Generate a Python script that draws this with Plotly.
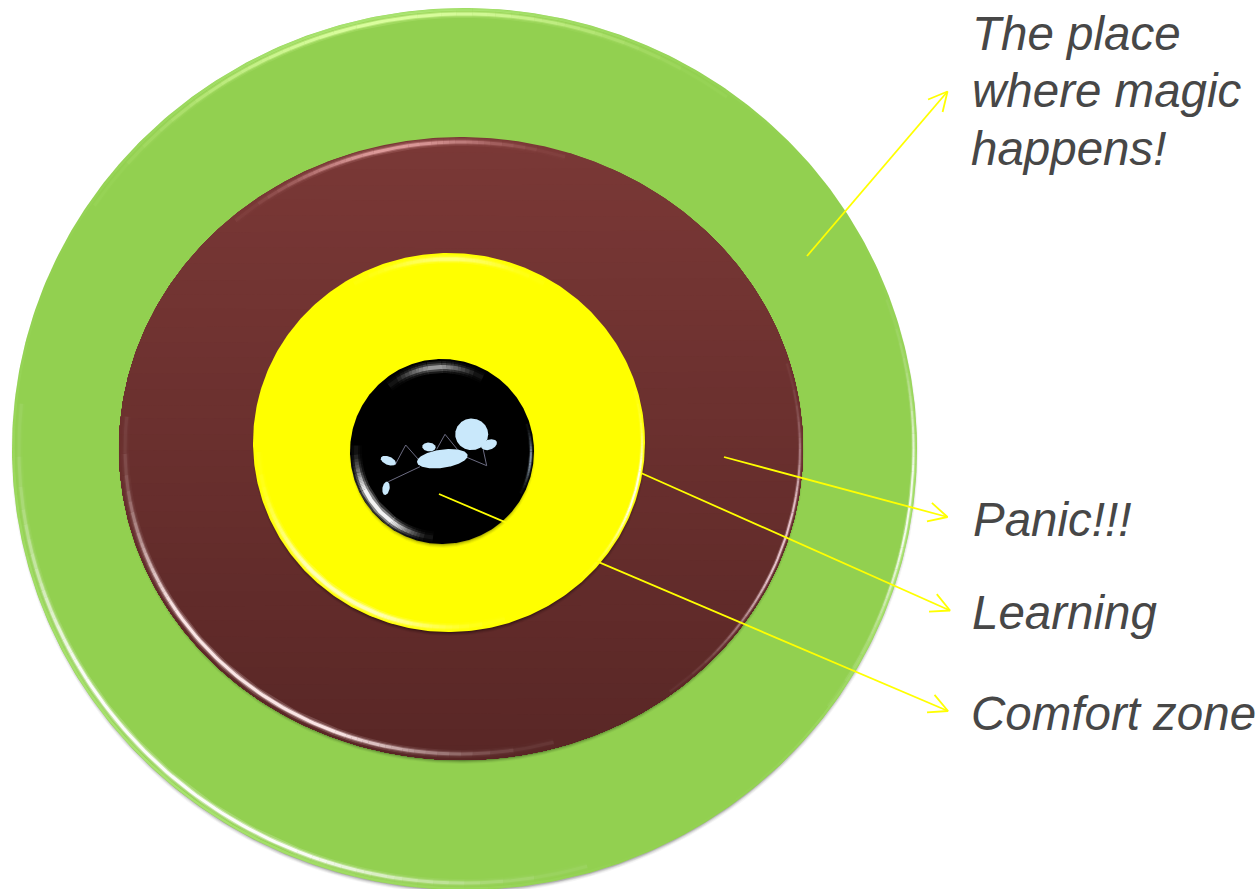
import numpy as np
import plotly.graph_objects as go

# Concentric zones: bounding boxes on a 1260 x 889 canvas
ZONE_NAMES = ["The place where magic happens", "Panic", "Learning", "Comfort zone"]
ZONE_LEFT = [12, 119, 253, 350]
ZONE_RIGHT = [917, 803, 645, 534]
ZONE_TOP = [8, 137, 253, 359]
ZONE_BOTTOM = [890, 760, 632, 544]
ZONE_TOP_COLOR = ["#92d050", "#7a3836", "#ffff00", "#000000"]
ZONE_BOTTOM_COLOR = ["#92d050", "#592726", "#ffff00", "#000000"]

# Labels, one entry per text line
LABEL_TEXT = ["The place", "where magic", "happens!", "Panic!!!", "Learning", "Comfort zone"]
LABEL_X = [971, 971, 970, 972, 971, 970]
LABEL_BASELINE = [49, 106, 164, 535, 628, 729]

# Leader arrows
ARROW_FROM_X = [807, 724, 641, 439]
ARROW_FROM_Y = [256, 457, 473, 494]
ARROW_TO_X = [947.5, 947.5, 950, 948]
ARROW_TO_Y = [91.5, 517, 610.5, 711]

# Sleeping figure in the comfort zone: ellipses (cx, cy, rx, ry, tilt in degrees)
FIGURE_BLOBS = [
    (471.7, 434.3, 16.5, 15.8, 0),
    (442.3, 458.7, 25.5, 9.2, -8),
    (489.0, 444.7, 8.3, 5.0, -20),
    (429.0, 447.0, 6.8, 4.4, 5),
    (388.3, 460.7, 8.0, 4.2, 22),
    (386.0, 488.3, 3.6, 6.8, 10),
]
FIGURE_LIMBS = [
    ([395, 405.7, 418.3], [465, 445, 459.3]),
    ([388.3, 420], [481.7, 466.7]),
    ([436.7, 445, 457.3], [449.3, 434.3, 449.3]),
    ([466.7, 486.7, 483.3], [457.3, 465.7, 450]),
]

FONT = "Liberation Sans"
TEXT_COLOR = "#474747"
ARROW_COLOR = "#ffff00"
FIGURE_COLOR = "#c9e8fb"
LIMB_COLOR = "#6c6c82"

fig = go.Figure()


def outline(cx, cy, rx, ry, tilt=0.0, n=240):
    t = np.linspace(0, 2 * np.pi, n)
    a = np.radians(tilt)
    x, y = rx * np.cos(t), ry * np.sin(t)
    return cx + x * np.cos(a) - y * np.sin(a), cy + x * np.sin(a) + y * np.cos(a)


def solid(x, y, color, opacity=1.0):
    fig.add_trace(go.Scatter(x=x, y=y, mode="lines", fill="toself", fillcolor=color,
                             opacity=opacity, line=dict(width=0), hoverinfo="skip"))


def mix(c0, c1, f):
    a = [int(c0[i:i + 2], 16) for i in (1, 3, 5)]
    b = [int(c1[i:i + 2], 16) for i in (1, 3, 5)]
    return "rgb(%d,%d,%d)" % tuple(round(p + (q - p) * f) for p, q in zip(a, b))


def gradient_disc(cx, cy, rx, ry, c0, c1, steps=40):
    # Vertical gradient: each step repaints the disc from its own cut line downward
    if c0 == c1:
        x, y = outline(cx, cy, rx, ry, n=480)
        solid(x, y, c0)
        return
    for i in range(steps):
        cut = cy - ry + 2 * ry * i / steps
        x, y = outline(cx, cy, rx, ry, n=480)
        keep = y >= cut
        solid(x[keep], y[keep], mix(c0, c1, i / (steps - 1)))


def soft_arc(cx, cy, rx, ry, inset, color, lobes, layers, n=360, buckets=20):
    # Stroke whose strength follows angular lobes (centre in degrees, power, strength)
    edges = np.radians(np.linspace(0, 360, n + 1))
    mids = (edges[:-1] + edges[1:]) / 2
    s = np.zeros(n)
    for centre, power, strength in lobes:
        s = np.maximum(s, strength * np.clip(np.cos(mids - np.radians(centre)), 0, 1) ** power)
    level = np.round(np.minimum(s, 1.0) * buckets).astype(int)
    px = cx + (rx - inset) * np.cos(edges)
    py = cy + (ry - inset) * np.sin(edges)
    for width, alpha in layers:
        for b in range(1, buckets + 1):
            xs, ys = [], []
            last = None
            for i in np.nonzero(level == b)[0]:
                if last is not None and i != last + 1:
                    xs.append(None)
                    ys.append(None)
                if last is None or i != last + 1:
                    xs.append(px[i])
                    ys.append(py[i])
                xs.append(px[i + 1])
                ys.append(py[i + 1])
                last = i
            if xs:
                fig.add_trace(go.Scatter(x=xs, y=ys, mode="lines", opacity=alpha * b / buckets,
                                         line=dict(color=color, width=width), hoverinfo="skip"))


WIDE = ((8, 0.18), (5, 0.4), (3, 0.95))
THIN = ((4, 0.25), (2, 0.85))
GLOW = ((8, 0.18), (5, 0.35), (3, 0.45))
BROAD = ((12, 0.2), (8, 0.4), (4, 0.9))

# Bevel highlights per zone: (colour, inset, lobes, stroke layers)
BEVEL = [
    [("#b4ee80", 1.5, [(135, 3, 0.9), (-100, 5, 0.9), (15, 10, 0.8)], ((2.5, 0.7),)),
     ("#ffffff", 7, [(130, 7, 1.4)], WIDE),
     ("#dcffa0", 6, [(-100, 10, 1.0)], WIDE),
     ("#ffffff", 3.5, [(8, 30, 1.1)], THIN)],
    [("#e9a6a6", 5, [(-102, 24, 0.85)], WIDE),
     ("#ffeaea", 6, [(130, 7, 1.4)], WIDE),
     ("#f4d4dc", 3, [(18, 20, 1.1)], THIN)],
    [("#ffffb8", 6, [(-90, 24, 0.8)], GLOW),
     ("#ffffff", 5, [(125, 8, 1.2)], GLOW),
     ("#ffffff", 3, [(15, 24, 1.1)], THIN)],
    [("#ffffff", 6, [(140, 12, 1.4)], BROAD),
     ("#ffffff", 8, [(-95, 16, 0.5)], BROAD),
     ("#c4dcf0", 3, [(5, 40, 0.7)], THIN)],
]
SHADOW_STRENGTH = [0.8, 0.9, 1.0, 0.8]

for i in range(4):
    cx = (ZONE_LEFT[i] + ZONE_RIGHT[i]) / 2
    cy = (ZONE_TOP[i] + ZONE_BOTTOM[i]) / 2
    rx = (ZONE_RIGHT[i] - ZONE_LEFT[i]) / 2
    ry = (ZONE_BOTTOM[i] - ZONE_TOP[i]) / 2
    # Soft shadow falling below the disc
    for grow, a in ((1.0, 0.05), (0, 0.08), (-1, 0.12), (-2, 0.18)):
        x, y = outline(cx + 0.3, cy + 3, rx + grow, ry + grow, n=480)
        solid(x, y, "#000000", a * SHADOW_STRENGTH[i])
    gradient_disc(cx, cy, rx, ry, ZONE_TOP_COLOR[i], ZONE_BOTTOM_COLOR[i])
    for color, inset, lobes, layers in BEVEL[i]:
        soft_arc(cx, cy, rx, ry, inset, color, lobes, layers)

# Figure limbs, then the blobs on top
for lx, ly in FIGURE_LIMBS:
    fig.add_trace(go.Scatter(x=lx, y=ly, mode="lines", line=dict(color=LIMB_COLOR, width=1), hoverinfo="skip"))
for blob in FIGURE_BLOBS:
    x, y = outline(*blob)
    solid(x, y, FIGURE_COLOR)

# Leader arrows with open heads
HEAD_LENGTH = 21
HEAD_SPREAD = np.radians(27)
for x0, y0, x1, y1 in zip(ARROW_FROM_X, ARROW_FROM_Y, ARROW_TO_X, ARROW_TO_Y):
    fig.add_trace(go.Scatter(x=[x0, x1], y=[y0, y1], mode="lines",
                             line=dict(color=ARROW_COLOR, width=1.8), hoverinfo="skip"))
    ang = np.arctan2(y1 - y0, x1 - x0)
    hx = [x1 - HEAD_LENGTH * np.cos(ang - HEAD_SPREAD), x1, x1 - HEAD_LENGTH * np.cos(ang + HEAD_SPREAD)]
    hy = [y1 - HEAD_LENGTH * np.sin(ang - HEAD_SPREAD), y1, y1 - HEAD_LENGTH * np.sin(ang + HEAD_SPREAD)]
    fig.add_trace(go.Scatter(x=hx, y=hy, mode="lines",
                             line=dict(color=ARROW_COLOR, width=1.8), hoverinfo="skip"))

# Text sits on its baseline; the offset places the middle anchor relative to it
FONT_SIZE = 47.5
for text, x, base in zip(LABEL_TEXT, LABEL_X, LABEL_BASELINE):
    fig.add_annotation(x=x, y=base - FONT_SIZE * 0.33, text=f"<i>{text}</i>", showarrow=False,
                       xanchor="left", yanchor="middle", xshift=-1,
                       font=dict(family=FONT, size=FONT_SIZE, color=TEXT_COLOR))

fig.update_layout(
    width=1260, height=889, margin=dict(l=0, r=0, t=0, b=0),
    paper_bgcolor="#ffffff", plot_bgcolor="#ffffff", showlegend=False,
    xaxis=dict(range=[0, 1260], visible=False, fixedrange=True),
    yaxis=dict(range=[889, 0], visible=False, fixedrange=True),
)
fig.write_html("out.html", config={"displayModeBar": False})
